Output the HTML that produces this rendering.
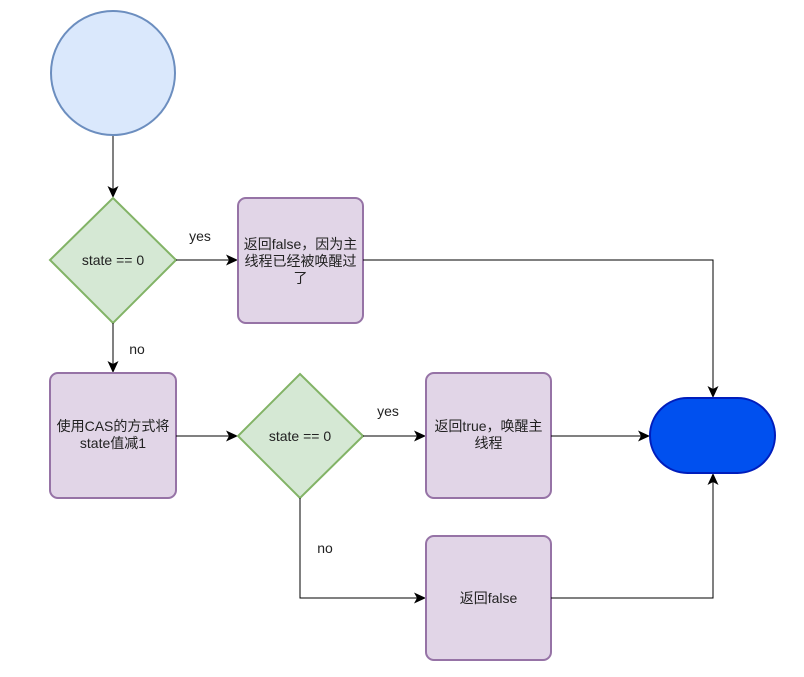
<!DOCTYPE html>
<html><head><meta charset="utf-8"><style>
html,body{margin:0;padding:0;background:#fff;}
svg{display:block;}
text{font-family:"Liberation Sans","Noto Sans CJK SC",sans-serif;font-size:14px;fill:#222;}
</style></head><body>
<svg width="804" height="677" viewBox="0 0 804 677" xmlns="http://www.w3.org/2000/svg">
<defs><marker id="a" markerWidth="14" markerHeight="14" refX="11" refY="7" orient="auto" markerUnits="userSpaceOnUse"><path d="M0,1.5 L12,7 L0,12.5 L3,7 Z" fill="#000"/></marker></defs>
<circle cx="113" cy="73" r="62" fill="#dae8fc" stroke="#6c8ebf" stroke-width="2"/>
<line x1="113" y1="136" x2="113" y2="197" stroke="#000" marker-end="url(#a)"/>
<polygon points="113,198 176,260 113,323 50,260" fill="#d5e8d4" stroke="#82b366" stroke-width="2"/>
<text x="113" y="265" text-anchor="middle">state == 0</text>
<line x1="176" y1="260" x2="237" y2="260" stroke="#000" marker-end="url(#a)"/>
<text x="200" y="241" text-anchor="middle">yes</text>
<rect x="238" y="198" width="125" height="125" rx="8" fill="#e1d5e7" stroke="#9673a6" stroke-width="2"/>
<text x="300.5" y="249" text-anchor="middle">返回false，因为主</text>
<text x="300.5" y="266" text-anchor="middle">线程已经被唤醒过</text>
<text x="300.5" y="283" text-anchor="middle">了</text>
<polyline points="363,260 713,260 713,397" fill="none" stroke="#000" marker-end="url(#a)"/>
<line x1="113" y1="323" x2="113" y2="372" stroke="#000" marker-end="url(#a)"/>
<text x="137" y="354" text-anchor="middle">no</text>
<rect x="50" y="373" width="126" height="125" rx="8" fill="#e1d5e7" stroke="#9673a6" stroke-width="2"/>
<text x="113" y="431" text-anchor="middle">使用CAS的方式将</text>
<text x="113" y="448" text-anchor="middle">state值减1</text>
<line x1="176" y1="436" x2="237" y2="436" stroke="#000" marker-end="url(#a)"/>
<polygon points="300,374 363,436 300,498 238,436" fill="#d5e8d4" stroke="#82b366" stroke-width="2"/>
<text x="300" y="441" text-anchor="middle">state == 0</text>
<line x1="363" y1="436" x2="425" y2="436" stroke="#000" marker-end="url(#a)"/>
<text x="388" y="416" text-anchor="middle">yes</text>
<rect x="426" y="373" width="125" height="125" rx="8" fill="#e1d5e7" stroke="#9673a6" stroke-width="2"/>
<text x="488.5" y="431" text-anchor="middle">返回true，唤醒主</text>
<text x="488.5" y="448" text-anchor="middle">线程</text>
<line x1="551" y1="436" x2="649" y2="436" stroke="#000" marker-end="url(#a)"/>
<polyline points="300,498 300,598 425,598" fill="none" stroke="#000" marker-end="url(#a)"/>
<text x="325" y="553" text-anchor="middle">no</text>
<rect x="426" y="536" width="125" height="124" rx="8" fill="#e1d5e7" stroke="#9673a6" stroke-width="2"/>
<text x="488.5" y="603" text-anchor="middle">返回false</text>
<polyline points="551,598 713,598 713,474" fill="none" stroke="#000" marker-end="url(#a)"/>
<rect x="650" y="398" width="125" height="75" rx="37.5" fill="#0050ef" stroke="#001dbc" stroke-width="2"/>
</svg>
</body></html>
